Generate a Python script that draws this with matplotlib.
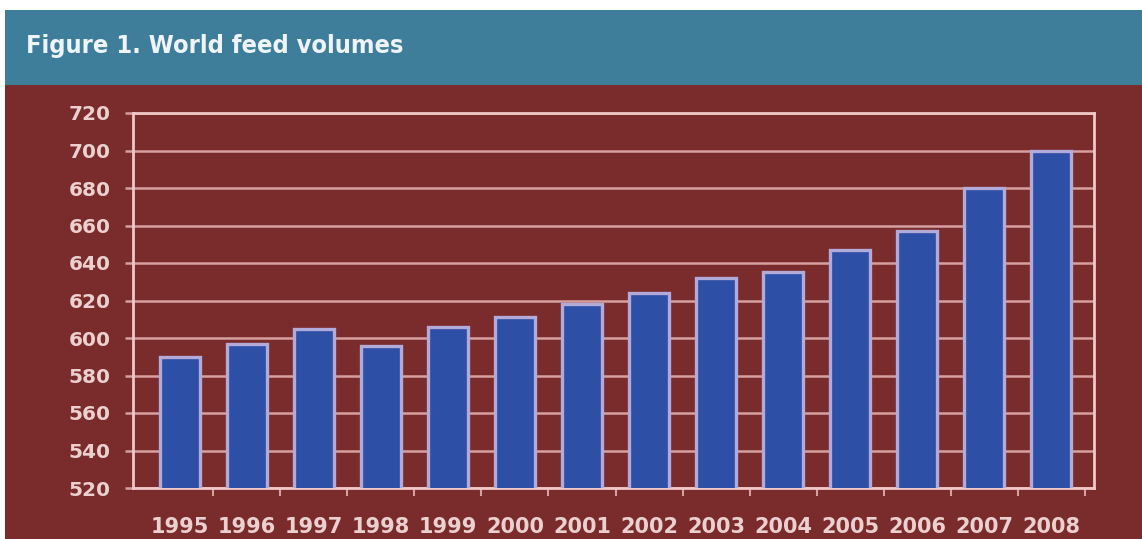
import matplotlib
matplotlib.use("Agg")
import matplotlib.pyplot as plt
from matplotlib.patches import Rectangle
import numpy as np

years = ["1995", "1996", "1997", "1998", "1999", "2000", "2001",
         "2002", "2003", "2004", "2005", "2006", "2007", "2008"]
volumes = [590, 597, 605, 596, 606, 611, 618, 624, 632, 635, 647, 657, 680, 700]
y_ticks = [520, 540, 560, 580, 600, 620, 640, 660, 680, 700, 720]
title = "Figure 1. World feed volumes"

W, H = 1142, 539
fig = plt.figure(figsize=(W / 100, H / 100), dpi=100, facecolor="white")

red_bg = "#7a2b2c"
banner = "#3f7e9b"
fig.patches.append(Rectangle((5 / W, 0), 1 - 5 / W, 1 - 85 / H, transform=fig.transFigure,
                             facecolor=red_bg, edgecolor="none", zorder=-2))
fig.patches.append(Rectangle((5 / W, 1 - 85 / H), 1 - 5 / W, 75 / H, transform=fig.transFigure,
                             facecolor=banner, edgecolor="none", zorder=-2))
fig.text(26 / W, 1 - 46 / H, title, color="#eef4fa", fontsize=18.2, fontweight="heavy",
         fontstretch="condensed", family="DejaVu Sans", va="center", ha="left")

ax = fig.add_axes([133 / W, 51 / H, (1094 - 133) / W, (488 - 113) / H])
ax.set_zorder(2)
ax.set_facecolor(red_bg)
x = np.arange(len(years))
ax.bar(x, volumes, width=0.6, bottom=0, color="#2d4fa6", edgecolor="#b2aad8",
       linewidth=2.4, zorder=3)
ax.set_ylim(520, 720)
ax.set_xlim(-0.70, len(years) - 1 + 0.64)
ax.set_yticks(y_ticks)
ax.set_yticklabels([str(v) for v in y_ticks])
ax.set_xticks(x)
ax.set_xticklabels(years)
ax.set_xticks(np.arange(len(years)) + 0.5, minor=True)
grid_c = "#d6a0a0"
ax.yaxis.grid(True, color=grid_c, linewidth=1.8, zorder=1)
ax.set_axisbelow(True)
for side in ["left", "right", "top", "bottom"]:
    ax.spines[side].set_color("#f0c8c8")
    ax.spines[side].set_linewidth(2)
ax.tick_params(axis="y", length=6, width=1.8, color=grid_c, labelcolor="#ecd0d0",
               labelsize=14.5, pad=10)
ax.tick_params(axis="x", which="major", length=0, labelcolor="#ecd0d0", labelsize=15, pad=21)
ax.tick_params(axis="x", which="minor", length=6, width=1.5, color=grid_c)
for lab in ax.get_yticklabels():
    lab.set_fontweight("bold")
for lab in ax.get_xticklabels():
    lab.set_fontweight("semibold")

fig.savefig("out.png", dpi=100, facecolor="white")
